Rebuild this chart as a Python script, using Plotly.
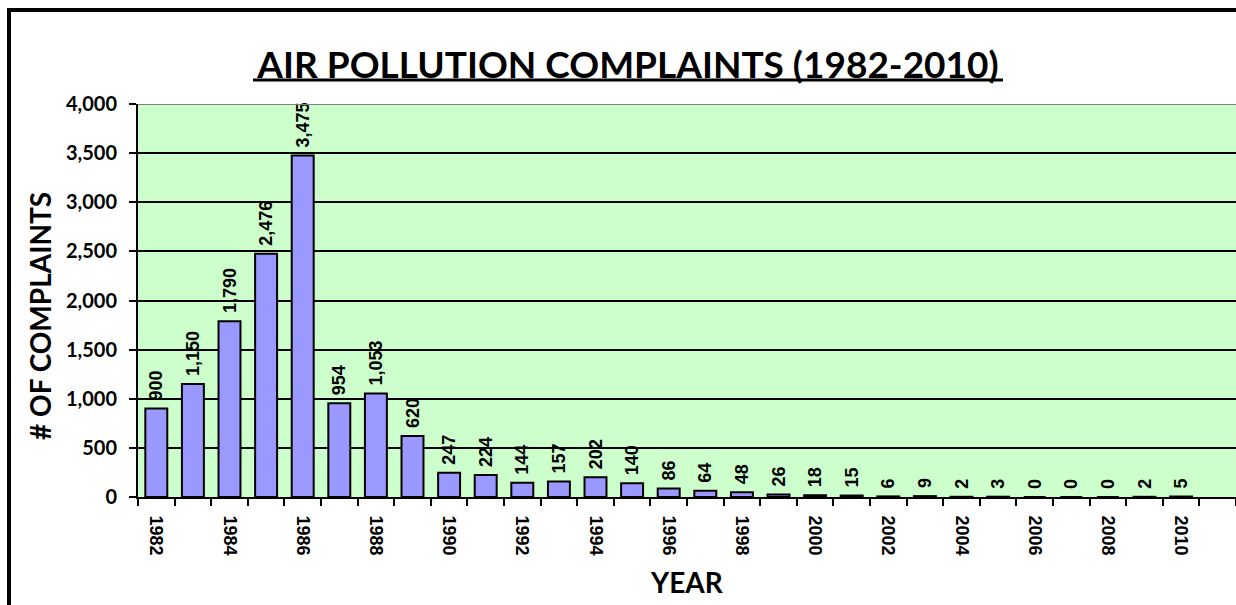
import plotly.graph_objects as go

years = list(range(1982, 2011))
complaints = [900, 1150, 1790, 2476, 3475, 954, 1053, 620, 247, 224, 144, 157, 202, 140,
              86, 64, 48, 26, 18, 15, 6, 9, 2, 3, 0, 0, 0, 2, 5]
label_years = list(range(1982, 2011, 2))
y_ticks = list(range(0, 4001, 500))

title_text = "AIR POLLUTION COMPLAINTS (1982-2010)"
y_title = "# OF COMPLAINTS"
x_title = "YEAR"

CAL = "Lato, 'Open Sans', sans-serif"
ARI = "'Liberation Sans', Arial, sans-serif"

W, H = 1236, 605
L, T, B = 138, 104, 108
PW, PH = W - L, H - T - B


def px_x(x):  # window px -> paper fraction
    return (x - L) / PW


def px_y(y):
    return (H - B - y) / PH


fig = go.Figure()
fig.add_trace(go.Bar(
    x=years, y=complaints,
    marker=dict(color="#9999FF", line=dict(color="black", width=2)),
    width=0.6,
    text=[f"&nbsp;{v:,}" for v in complaints],
    textposition="outside",
    textangle=-90,
    constraintext="none",
    textfont=dict(family=ARI, size=18, color="black", weight="bold"),
    cliponaxis=False,
    hoverinfo="skip",
))

fig.update_layout(
    width=W, height=H,
    margin=dict(l=L, r=0, t=T, b=B),
    paper_bgcolor="white",
    plot_bgcolor="#CCFFCC",
    showlegend=False,
    title=dict(text=title_text, xref="container", x=628 / W,
               xanchor="center", y=1 - 65 / H, yanchor="middle",
               font=dict(family=CAL, size=37, color="black", weight="bold")),
)

fig.update_xaxes(
    range=[1981.5, 2011.5],
    tickmode="array", tickvals=label_years, ticktext=[str(y) for y in label_years],
    tickangle=90,
    ticks="outside", ticklen=7, tickcolor="rgba(0,0,0,0)",
    ticklabelstandoff=6,
    tickfont=dict(family=ARI, size=18, color="black", weight="bold"),
    showgrid=False, zeroline=False,
    showline=True, linecolor="black", linewidth=2,
    minor=dict(ticks="outside", tick0=1981.5, dtick=1, ticklen=7, tickcolor="black",
               tickwidth=2, showgrid=False),
)

fig.update_yaxes(
    range=[0, 4000],
    tickmode="array", tickvals=y_ticks, ticktext=[f"{v:,}" for v in y_ticks],
    ticks="outside", ticklen=7, tickcolor="black", tickwidth=2,
    ticklabelstandoff=8,
    tickfont=dict(family=CAL, size=20, color="black", weight="bold"),
    showgrid=True, gridcolor="black", gridwidth=2,
    zeroline=False,
    showline=True, linecolor="black", linewidth=2,
)

# axis titles
fig.add_annotation(text=y_title, xref="paper", yref="paper", x=px_x(40), y=px_y(316),
                   xanchor="center", yanchor="middle", textangle=-90, showarrow=False,
                   font=dict(family=CAL, size=28, color="black", weight="bold"))
fig.add_annotation(text=x_title, xref="paper", yref="paper", x=px_x(687), y=px_y(582),
                   xanchor="center", yanchor="middle", showarrow=False,
                   font=dict(family=CAL, size=28, color="black", weight="bold"))

# title underline
fig.add_shape(type="line", xref="paper", yref="paper", x0=px_x(253), x1=px_x(1003),
              y0=px_y(80), y1=px_y(80), line=dict(color="black", width=3))
# top edge of plot area (gray)
fig.add_shape(type="line", xref="paper", yref="y", x0=0, x1=1, y0=4000, y1=4000,
              line=dict(color="#808080", width=2))
# outer chart border (left and top edges visible)
fig.add_shape(type="line", xref="paper", yref="paper", x0=px_x(9), x1=px_x(9),
              y0=px_y(8), y1=px_y(640), line=dict(color="black", width=4))
fig.add_shape(type="line", xref="paper", yref="paper", x0=px_x(7), x1=px_x(1300),
              y0=px_y(10), y1=px_y(10), line=dict(color="black", width=4))

fig.write_html("out.html",
               config={"displayModeBar": False},
               post_script="document.body.style.margin='0';document.body.style.overflow='hidden';")
